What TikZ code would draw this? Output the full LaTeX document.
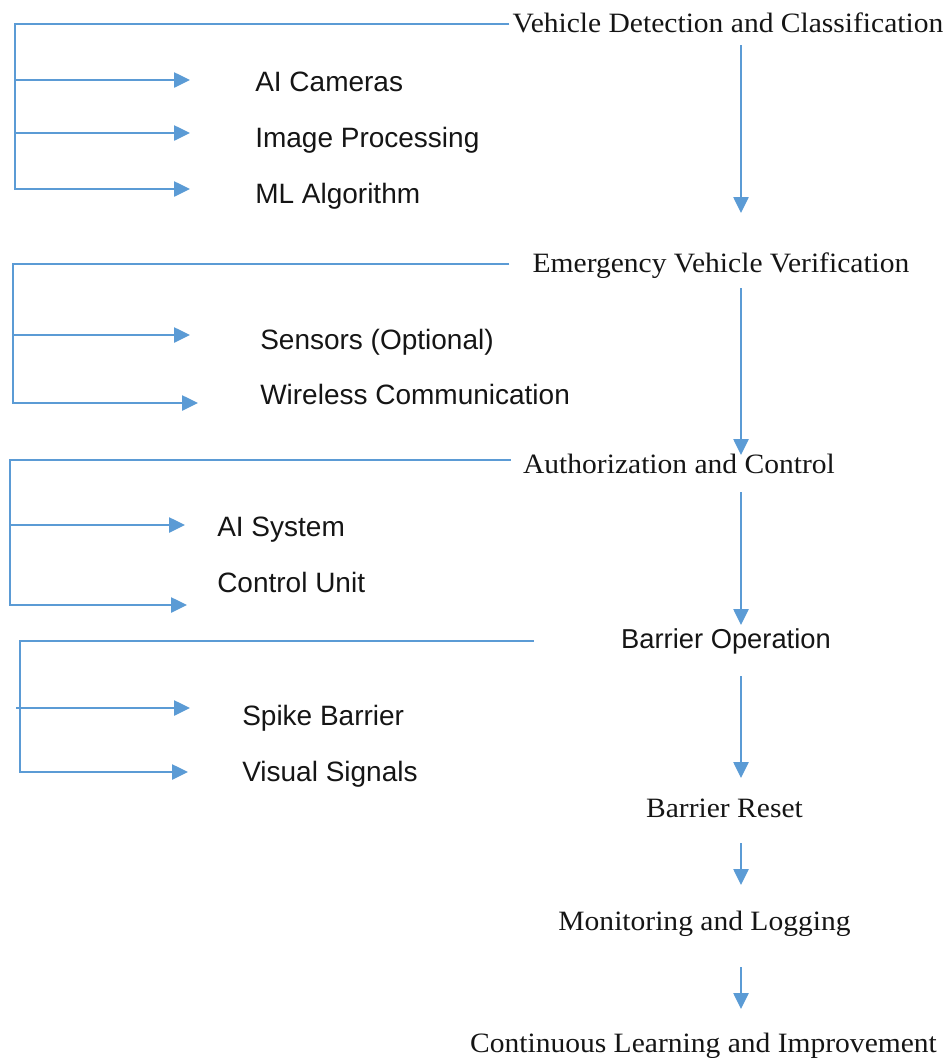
\documentclass[tikz,border=0pt]{standalone}
\usepackage{fontspec}
\setmainfont{Liberation Serif}
\setsansfont{Liberation Sans}
\usetikzlibrary{arrows.meta,calc}
\definecolor{flowblue}{HTML}{5B9BD5}
\definecolor{ink}{HTML}{151515}
\newcommand\widen[1]{\scalebox{1.055}[1]{#1}}
\tikzset{
  stepnode/.style={inner sep=0pt, anchor=base, text=ink, font=\fontsize{21}{25}\selectfont\rmfamily},
  stepsans/.style={inner sep=0pt, anchor=base, text=ink, font=\fontsize{20.5}{24}\selectfont\sffamily},
  itemnode/.style={inner sep=0pt, anchor=base west, text=ink, font=\fontsize{21}{25}\selectfont\sffamily},
  link/.style={draw=flowblue, line width=1.1pt},
  arr/.style={link, -{Triangle[length=12pt,width=11.5pt]}},
}
\begin{document}
\begin{tikzpicture}[x=0.75pt, y=-0.75pt]
\path[use as bounding box] (0,0) rectangle (944,1058);

% main flow
\coordinate (ax) at (741,0);
\node[stepnode] (s1) at (728,32)   {\widen{Vehicle Detection and Classification}};
\node[stepnode] (s2) at (721,272)  {\widen{Emergency Vehicle Verification}};
\node[stepnode] (s3) at (679,473)  {\widen{Authorization and Control}};
\node[stepsans] (s4) at (726,648)  {Barrier Operation};
\node[stepnode] (s5) at (724.5,817){\widen{Barrier Reset}};
\node[stepnode] (s6) at (704.5,930){\widen{Monitoring and Logging}};
\node[stepnode] (s7) at (703.5,1052){\widen{Continuous Learning and Improvement}};

\draw[arr] ($(s1.base -| ax)+(0,13)$) -- ($(s2.base -| ax)+(0,-59)$);
\draw[arr] ($(s2.base -| ax)+(0,16)$) -- ($(s3.base -| ax)+(0,-18)$);
\draw[arr] ($(s3.base -| ax)+(0,19)$) -- ($(s4.base -| ax)+(0,-23)$);
\draw[arr] ($(s4.base -| ax)+(0,28)$) -- ($(s5.base -| ax)+(0,-39)$);
\draw[arr] ($(s5.base -| ax)+(0,26)$) -- ($(s6.base -| ax)+(0,-45)$);
\draw[arr] ($(s6.base -| ax)+(0,37)$) -- ($(s7.base -| ax)+(0,-43)$);

% detection components
\node[itemnode] (cams)  at (255,91)  {AI Cameras};
\node[itemnode] (imgp)  at (255,147) {Image Processing};
\node[itemnode] (mlalg) at (255,203) {ML Algorithm};
\coordinate (b1) at (15,24);
\coordinate (t11) at ($(cams.base west)+(-65,-11)$);
\coordinate (t12) at ($(imgp.base west)+(-65,-14)$);
\coordinate (t13) at ($(mlalg.base west)+(-65,-14)$);
\draw[arr] ($(s1.base west)+(-3,-8)$) -- (b1) |- (t13);
\draw[arr] (b1 |- t11) -- (t11);
\draw[arr] (b1 |- t12) -- (t12);

% verification components
\node[itemnode] (sens) at (260,349) {Sensors (Optional)};
\node[itemnode] (wire) at (260,404) {Wireless Communication};
\coordinate (b2) at (13,264);
\coordinate (t21) at ($(sens.base west)+(-70,-14)$);
\coordinate (t22) at ($(wire.base west)+(-62,-1)$);
\draw[arr] ($(s2.base west)+(-23,-8)$) -- (b2) |- (t22);
\draw[arr] (b2 |- t21) -- (t21);

% authorization components
\node[itemnode] (aisys) at (217,536) {AI System};
\node[itemnode] (ctrl)  at (217,592) {Control Unit};
\coordinate (b3) at (10,460);
\coordinate (t31) at ($(aisys.base west)+(-32,-11)$);
\coordinate (t32) at ($(ctrl.base west)+(-30,13)$);
\draw[arr] ($(s3.base west)+(-12,-13)$) -- (b3) |- (t32);
\draw[arr] (b3 |- t31) -- (t31);

% barrier components
\node[itemnode] (spike)  at (242,725) {Spike Barrier};
\node[itemnode] (visual) at (242,781) {Visual Signals};
\coordinate (b4) at (20,641);
\coordinate (t41) at ($(spike.base west)+(-52,-17)$);
\coordinate (t42) at ($(visual.base west)+(-54,-9)$);
\draw[arr] ($(s4.base west)+(-87,-7)$) -- (b4) |- (t42);
\draw[arr] ($(b4 |- t41)+(-4,0)$) -- (t41);
\end{tikzpicture}
\end{document}
